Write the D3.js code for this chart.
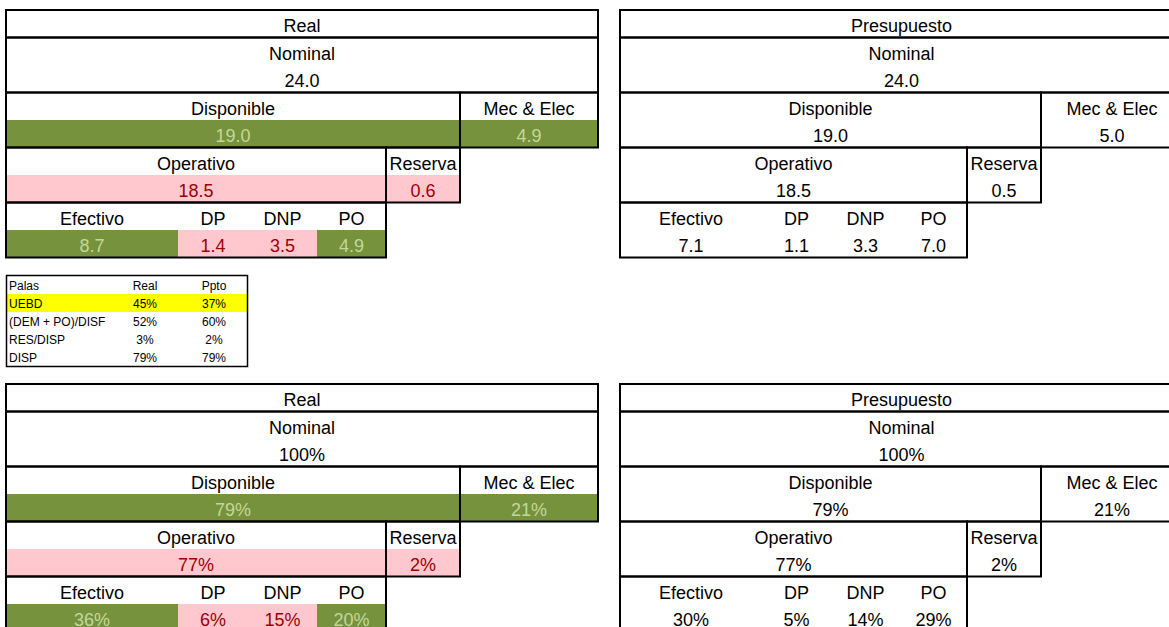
<!DOCTYPE html>
<html>
<head>
<meta charset="utf-8">
<script src="https://cdn.jsdelivr.net/npm/d3@7"></script>
<style>
  body { margin: 0; background: #fff; }
  svg { display: block; }
</style>
</head>
<body>
<svg id="chart" width="1169" height="627"></svg>
<script>
// data
const categories = ["Nominal", "Disponible", "Mec & Elec", "Operativo", "Reserva", "Efectivo", "DP", "DNP", "PO"];
const realValues = [24.0, 19.0, 4.9, 18.5, 0.6, 8.7, 1.4, 3.5, 4.9];
const pptoValues = [24.0, 19.0, 5.0, 18.5, 0.5, 7.1, 1.1, 3.3, 7.0];
const realPct = [100, 79, 21, 77, 2, 36, 6, 15, 20];
const pptoPct = [100, 79, 21, 77, 2, 30, 5, 14, 29];
// semaforo del real: "ok" verde, "bad" rojo
const realStatus = ["", "ok", "ok", "bad", "bad", "ok", "bad", "bad", "ok"];

const palasHeader = ["Palas", "Real", "Ppto"];
const palasRows = ["UEBD", "(DEM + PO)/DISF", "RES/DISP", "DISP"];
const palasReal = [45, 52, 3, 79];
const palasPpto = [37, 60, 2, 79];

// colores tipo excel
const greenFill = "#76923c", greenText = "#c4d79b";
const redFill = "#ffc7ce", redText = "#9c0006";

const svg = d3.select("#chart");
const font = "'Liberation Sans', Arial, sans-serif";

// cell spans: row of the label, first col edge, last col edge
const cellLayout = [
  { r: 1, c0: 0, c1: 6 },
  { r: 3, c0: 0, c1: 5 },
  { r: 3, c0: 5, c1: 6 },
  { r: 5, c0: 0, c1: 4 },
  { r: 5, c0: 4, c1: 5 },
  { r: 7, c0: 0, c1: 1 },
  { r: 7, c0: 1, c1: 2 },
  { r: 7, c0: 2, c1: 3 },
  { r: 7, c0: 3, c1: 4 },
];
const boxLayout = [
  { r0: 0, r1: 1, c0: 0, c1: 6 },
  { r0: 1, r1: 3, c0: 0, c1: 6 },
  { r0: 3, r1: 5, c0: 0, c1: 5 },
  { r0: 3, r1: 5, c0: 5, c1: 6 },
  { r0: 5, r1: 7, c0: 0, c1: 4 },
  { r0: 5, r1: 7, c0: 4, c1: 5 },
  { r0: 7, r1: 9, c0: 0, c1: 4 },
];

const leftEdges = [0, 172, 242, 311, 380, 454, 592];
const rightEdges = [0, 142, 211, 280, 347, 421, 563];
const fmtNum = d3.format(".1f");
const fmtPct = (v) => v + "%";

const blocks = [
  { title: "Real", x0: 6, top: 10, edges: leftEdges, values: realValues, fmt: fmtNum, status: realStatus },
  { title: "Presupuesto", x0: 620, top: 10, edges: rightEdges, values: pptoValues, fmt: fmtNum, status: null },
  { title: "Real", x0: 6, top: 384, edges: leftEdges, values: realPct, fmt: fmtPct, status: realStatus },
  { title: "Presupuesto", x0: 620, top: 384, edges: rightEdges, values: pptoPct, fmt: fmtPct, status: null },
];

const rowH = 27.5;

const drawBlock = (b) => {
  let y = d3.scaleLinear().domain([0, 9]).range([b.top, b.top + 9 * rowH]);
  let x = d3.scaleOrdinal().domain(d3.range(7)).range(b.edges.map((e) => b.x0 + e));

  let g = svg.append("g");

  let cells = categories.map((c, i) => ({
    label: c,
    value: b.values[i],
    status: b.status ? b.status[i] : "",
    ...cellLayout[i],
  }));

  // value row fills
  g.selectAll("rect.fill")
    .data(cells.filter((d) => d.status))
    .enter()
    .append("rect")
    .attr("x", (d) => x(d.c0))
    .attr("y", (d) => y(d.r + 1))
    .attr("width", (d) => x(d.c1) - x(d.c0))
    .attr("height", rowH)
    .attr("fill", (d) => (d.status === "ok" ? greenFill : redFill));

  // title
  g.append("text")
    .attr("x", (x(0) + x(6)) / 2)
    .attr("y", y(1) - 5.5)
    .attr("text-anchor", "middle")
    .style("font", "18px " + font)
    .attr("fill", "#000")
    .text(b.title);

  // labels
  g.selectAll("text.label")
    .data(cells)
    .enter()
    .append("text")
    .attr("x", (d) => (x(d.c0) + x(d.c1)) / 2)
    .attr("y", (d) => y(d.r + 1) - 5.5)
    .attr("text-anchor", "middle")
    .style("font", "18px " + font)
    .attr("fill", "#000")
    .text((d) => d.label);

  // values
  g.selectAll("text.value")
    .data(cells)
    .enter()
    .append("text")
    .attr("x", (d) => (x(d.c0) + x(d.c1)) / 2)
    .attr("y", (d) => y(d.r + 2) - 5.5)
    .attr("text-anchor", "middle")
    .style("font", "18px " + font)
    .attr("fill", (d) => (d.status === "ok" ? greenText : d.status === "bad" ? redText : "#000"))
    .text((d) => b.fmt(d.value));

  // thick borders
  g.selectAll("rect.box")
    .data(boxLayout)
    .enter()
    .append("rect")
    .attr("x", (d) => x(d.c0))
    .attr("y", (d) => y(d.r0))
    .attr("width", (d) => x(d.c1) - x(d.c0))
    .attr("height", (d) => y(d.r1) - y(d.r0))
    .attr("fill", "none")
    .attr("stroke", "#000")
    .attr("stroke-width", 2);
};

blocks.forEach(drawBlock);

// tabla palas
const palasData = palasRows.map((r, i) => ({ name: r, real: palasReal[i], ppto: palasPpto[i] }));
const py = d3.scaleBand().domain(d3.range(palasRows.length + 1)).range([276, 366]);
const px = d3.scaleOrdinal().domain(["name", "real", "ppto"]).range([9, 145, 214]);
const pg = svg.append("g");

pg.append("rect")
  .attr("x", 7)
  .attr("y", py(1))
  .attr("width", 240)
  .attr("height", py.bandwidth())
  .attr("fill", "#ffff00");

const palasText = (row, key, txt) =>
  pg.append("text")
    .attr("x", px(key))
    .attr("y", py(row) + py.bandwidth() - 4)
    .attr("text-anchor", key === "name" ? "start" : "middle")
    .style("font", "12px " + font)
    .attr("fill", "#000")
    .text(txt);

palasHeader.forEach((h, j) => palasText(0, ["name", "real", "ppto"][j], h));
palasData.forEach((d, i) => {
  palasText(i + 1, "name", d.name);
  palasText(i + 1, "real", d.real + "%");
  palasText(i + 1, "ppto", d.ppto + "%");
});

pg.append("rect")
  .attr("x", 6.5)
  .attr("y", 275.5)
  .attr("width", 241)
  .attr("height", 91)
  .attr("fill", "none")
  .attr("stroke", "#000")
  .attr("stroke-width", 1.5);
</script>
</body>
</html>
